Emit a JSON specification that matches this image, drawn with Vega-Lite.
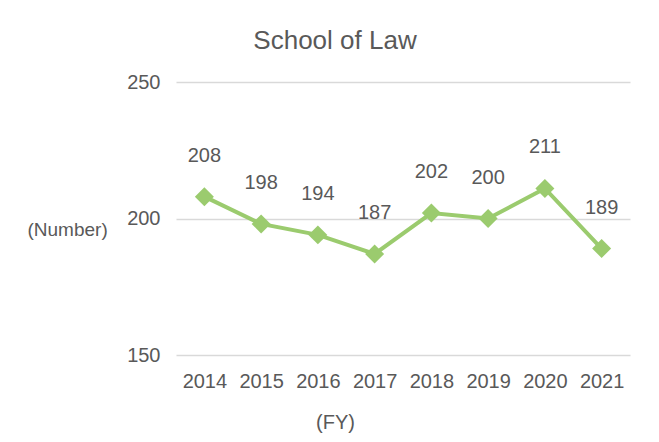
{
  "$schema": "https://vega.github.io/schema/vega-lite/v6.json",
  "autosize": {"type": "none"},
  "width": 454,
  "height": 273,
  "padding": {"left": 176, "top": 82, "right": 29, "bottom": 87},
  "background": "white",
  "title": {
    "text": "School of Law",
    "font": "Liberation Sans",
    "fontSize": 26,
    "fontWeight": "normal",
    "color": "#595959",
    "anchor": "middle",
    "dx": -68,
    "offset": 18
  },
  "data": {
    "values": [
      {"year": "2014", "value": 208},
      {"year": "2015", "value": 198},
      {"year": "2016", "value": 194},
      {"year": "2017", "value": 187},
      {"year": "2018", "value": 202},
      {"year": "2019", "value": 200},
      {"year": "2020", "value": 211},
      {"year": "2021", "value": 189}
    ]
  },
  "config": {
    "view": {"stroke": null},
    "font": "Liberation Sans"
  },
  "encoding": {
    "x": {
      "field": "year",
      "type": "ordinal",
      "scale": {"type": "point", "padding": 0.5},
      "axis": {
        "title": "(FY)",
        "labelAngle": 0,
        "labelFont": "Liberation Sans",
        "labelFontSize": 20,
        "labelColor": "#595959",
        "labelPadding": 16,
        "domain": false,
        "ticks": false,
        "titleFont": "Liberation Sans",
        "titleFontSize": 20,
        "titleFontWeight": "normal",
        "titleColor": "#595959",
        "titleX": 159,
        "titleY": 67,
        "titleBaseline": "middle",
        "titleAlign": "center"
      }
    },
    "y": {
      "field": "value",
      "type": "quantitative",
      "scale": {"domain": [150, 250], "nice": false, "zero": false},
      "axis": {
        "values": [150, 200, 250],
        "title": "(Number)",
        "titleAngle": 0,
        "titleX": -149,
        "titleY": 147,
        "titleAlign": "left",
        "titleBaseline": "middle",
        "titleFont": "Liberation Sans",
        "titleFontSize": 19,
        "titleFontWeight": "normal",
        "titleColor": "#595959",
        "labelFont": "Liberation Sans",
        "labelFontSize": 20,
        "labelColor": "#595959",
        "labelPadding": 16,
        "domain": false,
        "ticks": false,
        "grid": true,
        "gridColor": "#D9D9D9",
        "gridWidth": 1.5
      }
    }
  },
  "layer": [
    {
      "mark": {"type": "line", "color": "#9BCB6E", "strokeWidth": 4}
    },
    {
      "mark": {"type": "point", "shape": "diamond", "filled": true, "color": "#9BCB6E", "size": 360, "opacity": 1}
    },
    {
      "mark": {"type": "text", "font": "Liberation Sans", "fontSize": 20, "color": "#595959", "dy": -41, "baseline": "middle"},
      "encoding": {"text": {"field": "value", "type": "quantitative"}}
    }
  ]
}
